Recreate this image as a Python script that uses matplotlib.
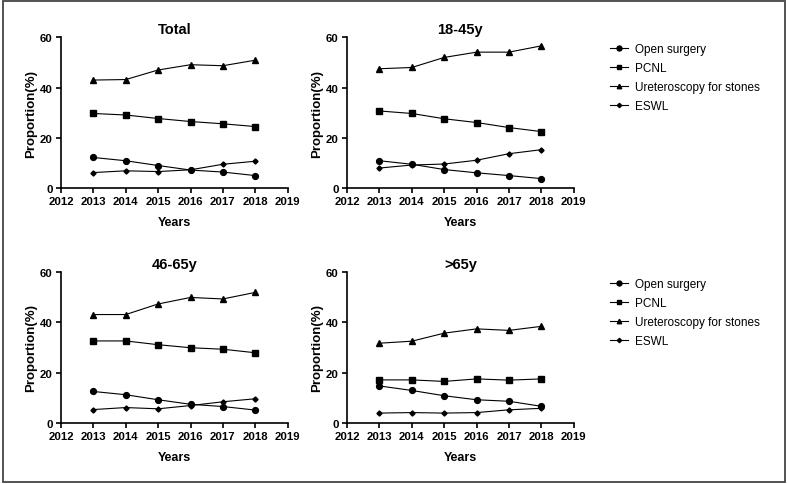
import matplotlib
matplotlib.use('Agg')
import matplotlib.pyplot as plt
from matplotlib.patches import Rectangle

plt.rcParams['font.family'] = ['Liberation Sans', 'DejaVu Sans']

years = [2013, 2014, 2015, 2016, 2017, 2018]
series_names = ['Open surgery', 'PCNL', 'Ureteroscopy for stones', 'ESWL']
series_markers = ['o', 's', '^', 'D']
panel_titles = ['Total', '18-45y', '46-65y', '>65y']

# Total
total_open = [12.2, 10.9, 9.0, 7.2, 6.4, 5.0]
total_pcnl = [29.7, 29.1, 27.7, 26.5, 25.6, 24.5]
total_urs = [43.0, 43.2, 47.0, 49.1, 48.7, 50.9]
total_eswl = [6.2, 6.9, 6.6, 7.3, 9.5, 10.7]

# 18-45y
y18_open = [10.9, 9.5, 7.4, 6.1, 5.0, 3.8]
y18_pcnl = [30.7, 29.7, 27.6, 26.1, 24.1, 22.5]
y18_urs = [47.5, 48.0, 52.0, 54.1, 54.1, 56.6]
y18_eswl = [8.0, 9.2, 9.6, 11.1, 13.7, 15.3]

# 46-65y
y46_open = [12.5, 11.2, 9.2, 7.4, 6.5, 5.1]
y46_pcnl = [32.6, 32.6, 31.1, 29.9, 29.3, 27.9]
y46_urs = [43.1, 43.1, 47.3, 49.9, 49.3, 51.9]
y46_eswl = [5.3, 6.1, 5.6, 6.9, 8.4, 9.6]

# >65y
y65_open = [14.7, 12.9, 10.8, 9.2, 8.6, 6.6]
y65_pcnl = [17.1, 17.1, 16.5, 17.5, 17.0, 17.5]
y65_urs = [31.7, 32.5, 35.7, 37.4, 36.8, 38.4]
y65_eswl = [3.9, 4.1, 3.9, 4.1, 5.2, 5.8]

panels = [
    [total_open, total_pcnl, total_urs, total_eswl],
    [y18_open, y18_pcnl, y18_urs, y18_eswl],
    [y46_open, y46_pcnl, y46_urs, y46_eswl],
    [y65_open, y65_pcnl, y65_urs, y65_eswl],
]

fig = plt.figure(figsize=(7.87, 4.85), dpi=100)

# axes boxes [left, bottom, width, height] in figure fractions
lefts = [0.0775, 0.441, 0.0775, 0.441]
bottoms = [0.610, 0.610, 0.126, 0.126]
w, h = 0.288, 0.311

msizes = {'o': 4.2, 's': 4.0, '^': 3.8, 'D': 2.6}

for i in range(4):
    ax = fig.add_axes([lefts[i], bottoms[i], w, h])
    handles = []
    for vals, name, mk in zip(panels[i], series_names, series_markers):
        ln, = ax.plot(years, vals, marker=mk, color='black', lw=0.8,
                      ms=msizes[mk], label=name)
        handles.append(ln)
    ax.set_xlim(2012, 2019)
    ax.set_ylim(0, 60)
    ax.set_xticks(range(2012, 2020))
    ax.set_yticks([0, 20, 40, 60])
    for s in ['top', 'right']:
        ax.spines[s].set_visible(False)
    for s in ['left', 'bottom']:
        ax.spines[s].set_linewidth(1.2)
    ax.tick_params(width=1.2, length=3.5, labelsize=8.2, pad=2.5)
    for lab in ax.get_xticklabels() + ax.get_yticklabels():
        lab.set_fontweight('bold')
    ax.set_title(panel_titles[i], fontsize=10.5, fontweight='bold', pad=3)
    ax.set_xlabel('Years', fontsize=9, fontweight='bold', labelpad=7)
    ax.set_ylabel('Proportion(%)', fontsize=9.5, fontweight='bold', labelpad=2)
    if i in (1, 3):
        fig.legend(handles=handles, loc='upper left',
                   bbox_to_anchor=(0.762, bottoms[i] + h + 0.01),
                   frameon=False, fontsize=8.5, handlelength=1.5,
                   handletextpad=0.6, labelspacing=0.6, markerscale=0.85)

fig.add_artist(Rectangle((0.004, 0.004), 0.993, 0.992, transform=fig.transFigure,
                         fill=False, edgecolor='#444444', lw=1.3))

fig.savefig('out.png', dpi=100)
